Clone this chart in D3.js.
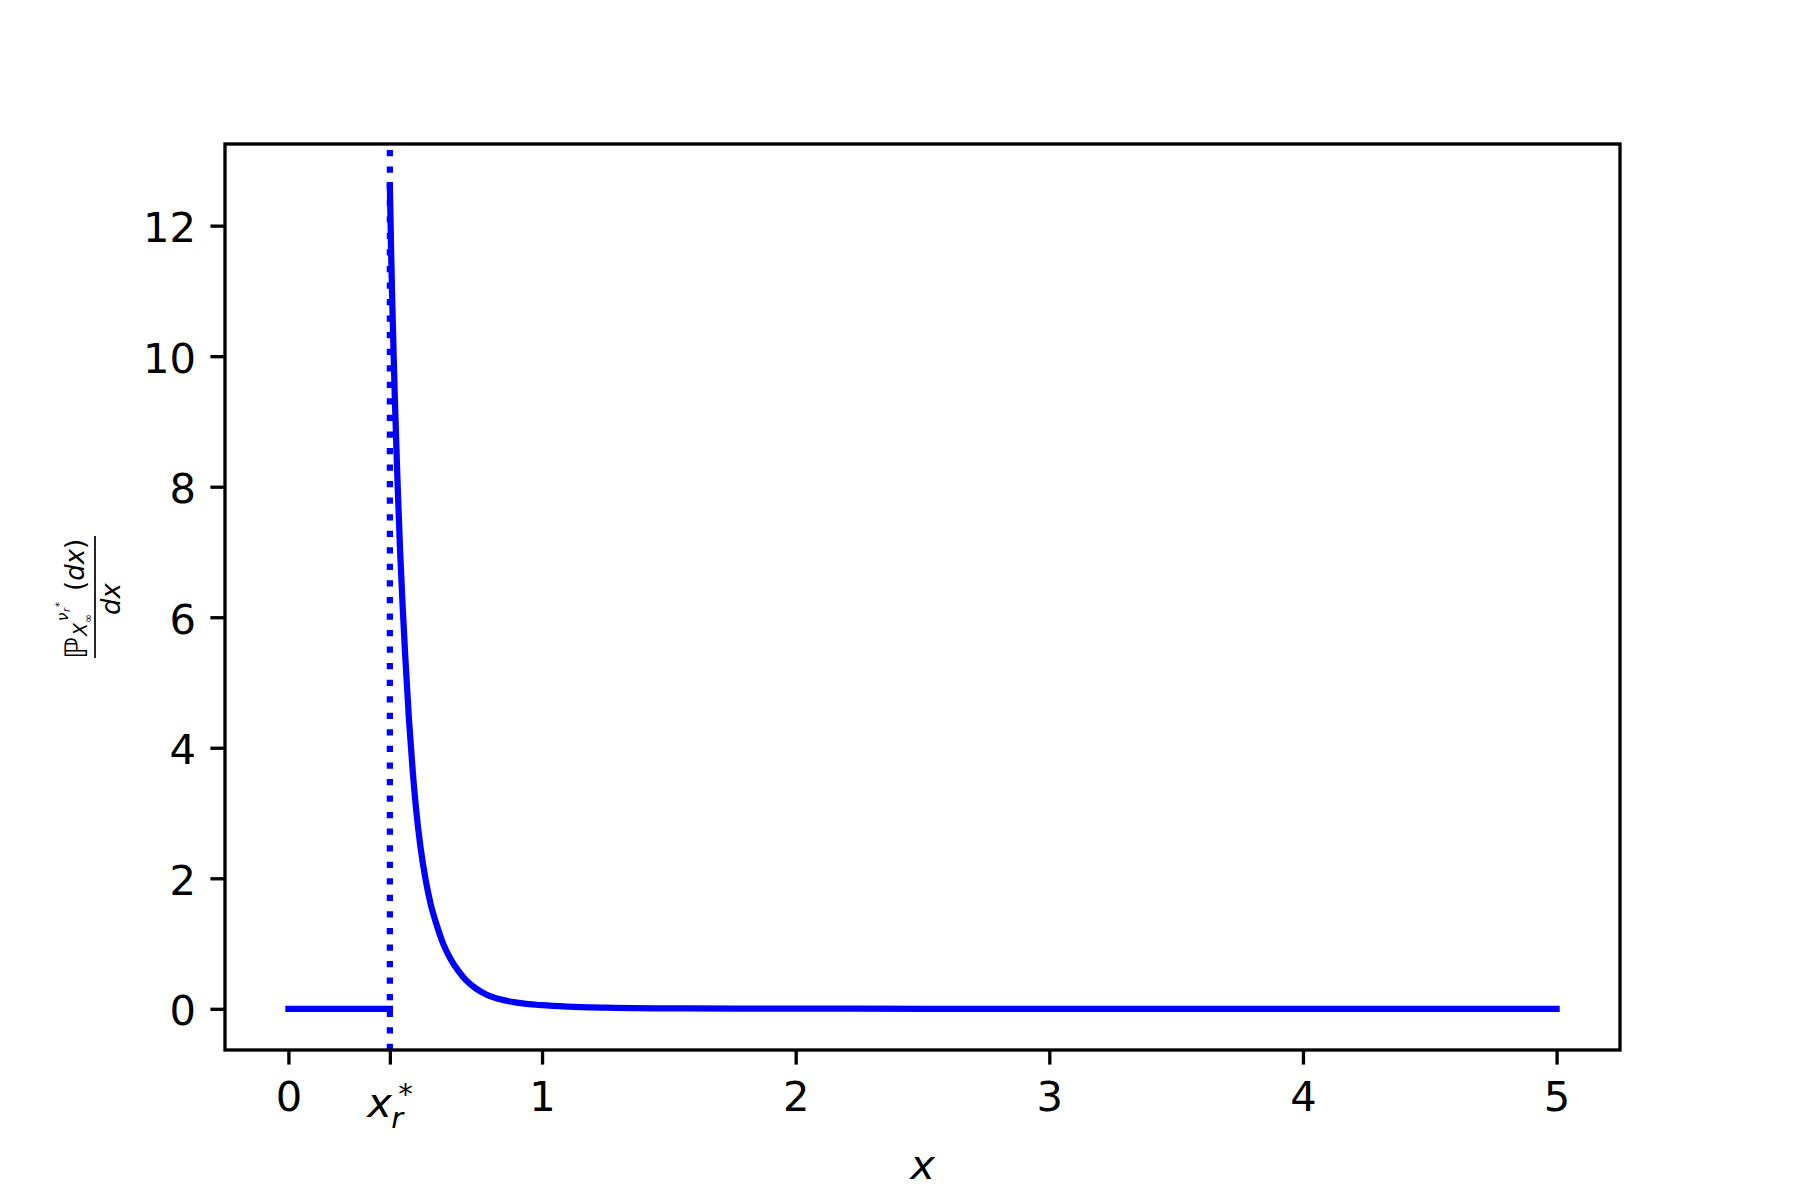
<!DOCTYPE html>
<html>
<head>
<meta charset="utf-8">
<script src="https://cdn.jsdelivr.net/npm/d3@7"></script>
<style>
body { margin: 0; background: #ffffff; }
</style>
</head>
<body>
<div id="chart"></div>
<script>
// zero part, left of x*
var stepX = [0, 0.4];
var stepY = [0, 0];

// density right of x*
var curveX = [0.400, 0.405, 0.410, 0.415, 0.420, 0.430, 0.440, 0.450, 0.460, 0.475,
    0.490, 0.505, 0.520, 0.540, 0.560, 0.585, 0.610, 0.640, 0.670, 0.700,
    0.740, 0.780, 0.830, 0.900, 1.000, 1.100, 1.250, 1.500, 1.750, 2.000,
    2.500, 3.000, 4.000, 5.000];
var curveY = [12.62, 11.6, 10.75, 10.0, 9.3, 8.1, 7.05, 6.2, 5.45, 4.45,
    3.65, 3.0, 2.5, 2.0, 1.62, 1.28, 1.0, 0.76, 0.58, 0.44,
    0.31, 0.22, 0.15, 0.095, 0.055, 0.033, 0.017, 0.007, 0.003, 0.002,
    0.0005, 0, 0, 0];

var xStar = 0.4;
var xTicks = [0, 0.4, 1, 2, 3, 4, 5];
var xTickLabels = ['0', 'xstar', '1', '2', '3', '4', '5'];
var yTicks = [0, 2, 4, 6, 8, 10, 12];

// drawing area (note: "top" is taken by window.top)
var width = 1800;
var height = 1200;
var axLeft = 225, axRight = 1620, axTop = 144, axBottom = 1050;
var fontSize = 41.67;
var tickLen = 14.6;
var blue = '#0000ff';

var xMin = d3.min(stepX), xMax = d3.max(curveX);
var yMin = d3.min(stepY.concat(curveY)), yMax = d3.max(curveY);
var xPad = (xMax - xMin) * 0.05, yPad = (yMax - yMin) * 0.05;

var x = d3.scaleLinear().domain([xMin - xPad, xMax + xPad]).range([axLeft, axRight]);
var y = d3.scaleLinear().domain([yMin - yPad, yMax + yPad]).range([axBottom, axTop]);

var svg = d3.select('#chart').append('svg')
    .attr('width', width)
    .attr('height', height)
    .style('font-family', 'DejaVu Sans');

svg.append('rect').attr('width', width).attr('height', height).attr('fill', '#ffffff');

// clip to the axes box
svg.append('clipPath').attr('id', 'clip')
    .append('rect')
    .attr('x', axLeft).attr('y', axTop)
    .attr('width', axRight - axLeft).attr('height', axBottom - axTop);

var plot = svg.append('g').attr('clip-path', 'url(#clip)');

// vertical dotted line at x*
plot.append('line')
    .attr('x1', x(xStar)).attr('x2', x(xStar))
    .attr('y1', axBottom).attr('y2', axTop)
    .attr('stroke', blue)
    .attr('stroke-width', 6.25)
    .attr('stroke-dasharray', '6.25,10.3');

var line = d3.line()
    .x(function (d) { return x(d[0]); })
    .y(function (d) { return y(d[1]); });

plot.append('path')
    .attr('d', line(d3.zip(stepX, stepY)))
    .attr('fill', 'none')
    .attr('stroke', blue)
    .attr('stroke-width', 6.25)
    .attr('stroke-linecap', 'square');

plot.append('path')
    .attr('d', line.curve(d3.curveMonotoneX)(d3.zip(curveX, curveY)))
    .attr('fill', 'none')
    .attr('stroke', blue)
    .attr('stroke-width', 6.25)
    .attr('stroke-linecap', 'square')
    .attr('stroke-linejoin', 'round');

// x axis
var xAxis = svg.append('g')
    .attr('transform', 'translate(0,' + axBottom + ')')
    .call(d3.axisBottom(x).tickValues(xTicks).tickSize(tickLen).tickSizeOuter(0)
        .tickFormat(function (d, i) { return xTickLabels[i]; }));
xAxis.select('.domain').remove();
xAxis.selectAll('.tick line').attr('stroke', '#000').attr('stroke-width', 3.33);
xAxis.selectAll('.tick text')
    .attr('y', 61).attr('dy', null)
    .attr('fill', '#000')
    .style('font-size', fontSize + 'px')
    .style('font-family', 'DejaVu Sans');

// the x* tick gets a math label
xAxis.selectAll('.tick text')
    .filter(function (d) { return d === xStar; })
    .each(function () {
        var t = d3.select(this).text('').attr('text-anchor', 'start').attr('x', -23).attr('y', 67);
        t.append('tspan').style('font-style', 'italic').text('x');
        t.append('tspan').attr('x', 1).attr('y', 78).style('font-size', '29px').style('font-style', 'italic').text('r');
        t.append('tspan').attr('x', 8).attr('y', 54).style('font-size', '29px').text('*');
    });

// y axis
var yAxis = svg.append('g')
    .attr('transform', 'translate(' + axLeft + ',0)')
    .call(d3.axisLeft(y).tickValues(yTicks).tickSize(tickLen).tickSizeOuter(0).tickFormat(d3.format('d')));
yAxis.select('.domain').remove();
yAxis.selectAll('.tick line').attr('stroke', '#000').attr('stroke-width', 3.33);
yAxis.selectAll('.tick text')
    .attr('x', -29).attr('dy', '0.38em')
    .attr('fill', '#000')
    .style('font-size', fontSize + 'px')
    .style('font-family', 'DejaVu Sans');

// axes box
svg.append('rect')
    .attr('x', axLeft).attr('y', axTop)
    .attr('width', axRight - axLeft).attr('height', axBottom - axTop)
    .attr('fill', 'none')
    .attr('stroke', '#000')
    .attr('stroke-width', 3.33);

// x label
svg.append('text')
    .attr('x', (axLeft + axRight) / 2)
    .attr('y', 1179)
    .attr('text-anchor', 'middle')
    .style('font-size', fontSize + 'px')
    .style('font-style', 'italic')
    .text('x');

// y label: fraction, rotated
var yl = svg.append('g')
    .attr('transform', 'translate(95,' + ((axTop + axBottom) / 2) + ') rotate(-90)');

yl.append('line')
    .attr('x1', -61).attr('x2', 61)
    .attr('y1', 0).attr('y2', 0)
    .attr('stroke', '#000')
    .attr('stroke-width', 1.7);

yl.append('text').attr('x', -62).attr('y', -8)
    .style('font-size', '31px').style('font-style', 'italic').text('\u2119');
yl.append('text').attr('x', -39).attr('y', -8)
    .style('font-size', '19px').style('font-style', 'italic').text('X');
yl.append('text').attr('x', -26).attr('y', -3)
    .style('font-size', '11px').text('\u221e');
yl.append('text').attr('x', -24).attr('y', -27)
    .style('font-size', '15px').style('font-style', 'italic').text('\u03bd');
yl.append('text').attr('x', -15).attr('y', -25)
    .style('font-size', '10px').style('font-style', 'italic').text('r');
yl.append('text').attr('x', -10).attr('y', -32)
    .style('font-size', '10px').text('*');

var num = yl.append('text').attr('x', 6).attr('y', -11).style('font-size', '26px');
num.append('tspan').text('(');
num.append('tspan').style('font-style', 'italic').text('dx');
num.append('tspan').text(')');

yl.append('text').attr('x', -2).attr('y', 25)
    .attr('text-anchor', 'middle')
    .style('font-size', '26px').style('font-style', 'italic')
    .text('dx');
</script>
</body>
</html>
